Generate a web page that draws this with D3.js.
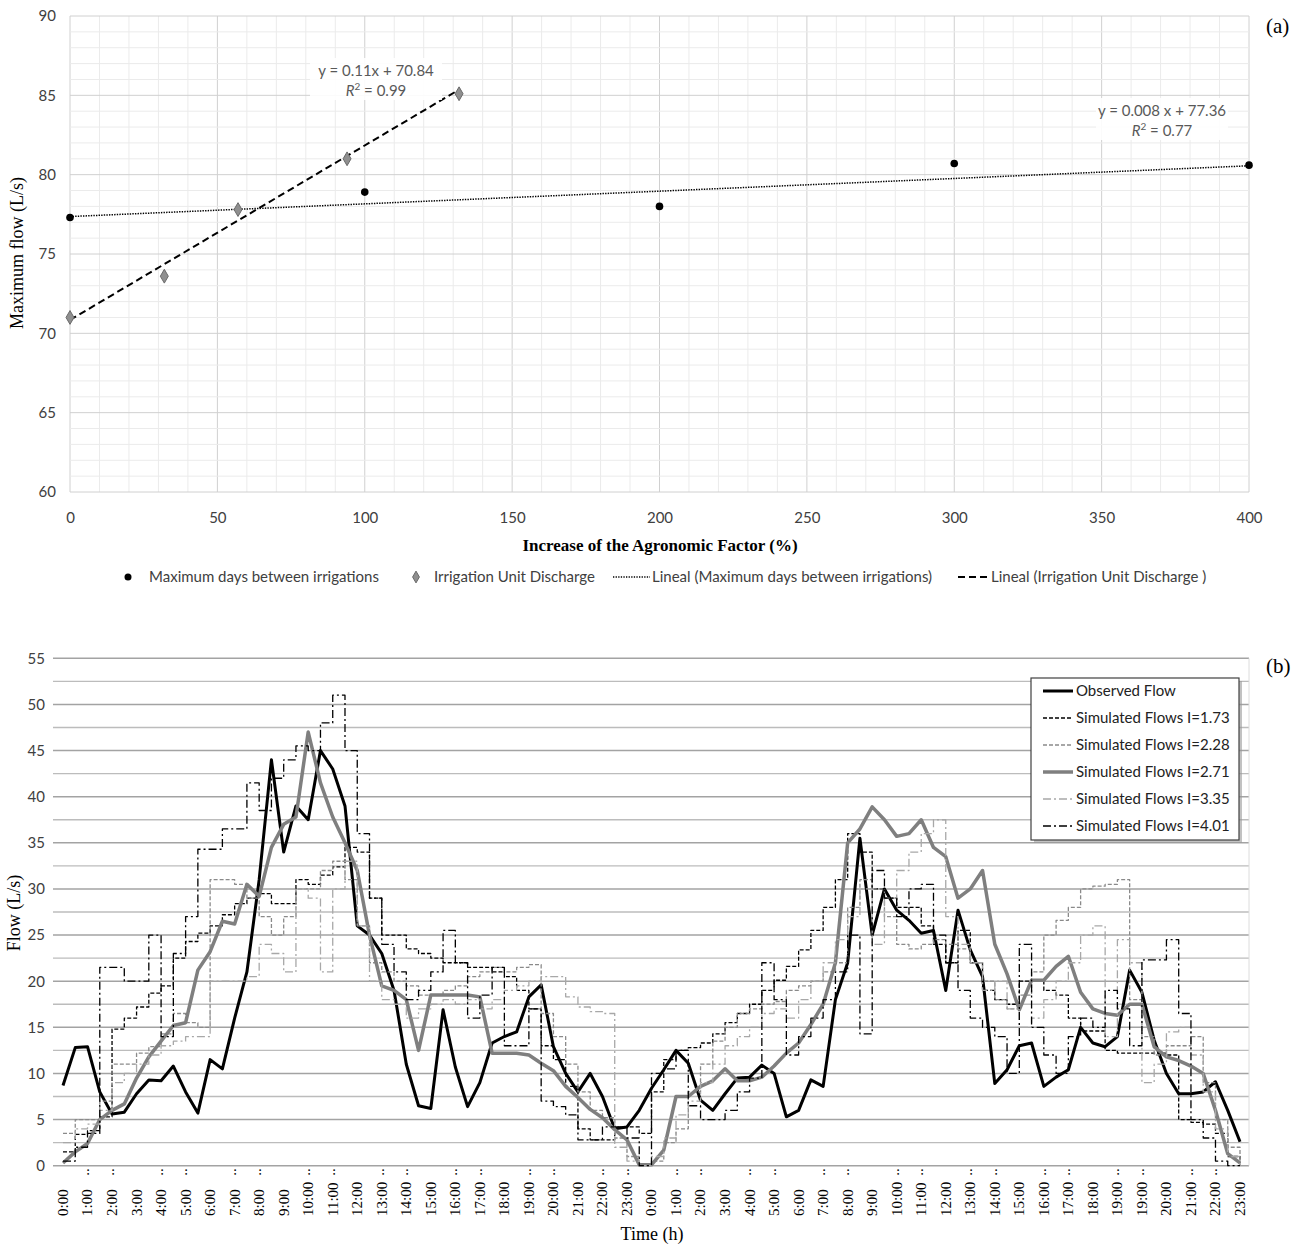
<!DOCTYPE html>
<html>
<head>
<meta charset="utf-8">
<script src="https://cdn.jsdelivr.net/npm/d3@7"></script>
<style>
body { margin: 0; background: #fff; }
</style>
</head>
<body>
<script>
// ---- panel (a) data
const daysX = [0, 100, 200, 300, 400];
const daysY = [77.3, 78.9, 78.0, 80.7, 80.6];
const dischargeX = [0, 32, 57, 94, 132];
const dischargeY = [71.0, 73.6, 77.8, 81.0, 85.1];
const trendSlope = [0.008, 0.11];       // days, discharge
const trendIntercept = [77.36, 70.84];
const trendXEnd = [400, 132];
const trendR2 = ['0.77', '0.99'];
const trendEq = ['y = 0.008 x + 77.36', 'y = 0.11x + 70.84'];
const legendA = ['Maximum days between irrigations', 'Irrigation Unit Discharge',
                 'Lineal (Maximum days between irrigations)', 'Lineal (Irrigation Unit Discharge )'];

// ---- panel (b) data, one value every half label step
const timeLabels = ['0:00','1:00','2:00','3:00','4:00','5:00','6:00','7:00','8:00','9:00','10:00','11:00',
    '12:00','13:00','14:00','15:00','16:00','17:00','18:00','19:00','20:00','21:00','22:00','23:00',
    '0:00','1:00','2:00','3:00','4:00','5:00','6:00','7:00','8:00','9:00','10:00','11:00',
    '12:00','13:00','14:00','15:00','16:00','17:00','18:00','19:00','19:00','20:00','21:00','22:00','23:00'];
const labelCut = [0,1,1,0,1,1,0,1,1,0,1,1,0,1,1,0,1,1,0,1,1,0,1,1,
                  0,1,1,0,1,1,0,1,1,0,1,1,0,1,1,0,1,1,0,1,1,0,1,1,0];
const times = d3.range(0, 48.25, 0.5);

const observed = [
    8.7, 12.8, 12.9, 8, 5.6, 5.8, 7.8, 9.3,
    9.2, 10.8, 8, 5.7, 11.5, 10.5, 16, 21,
    31, 44, 34, 39, 37.5, 45, 43, 39,
    26, 25, 23, 19, 11, 6.5, 6.2, 16.9,
    10.7, 6.4, 9, 13.3, 14, 14.5, 18.3, 19.6,
    12.9, 10, 8, 10, 7.5, 4, 4.2, 6,
    8.4, 10.4, 12.5, 11.1, 7.1, 6, 7.8, 9.5,
    9.6, 10.9, 10, 5.3, 6, 9.3, 8.6, 18,
    22, 35.5, 25, 30, 27.7, 26.6, 25.2, 25.5,
    19, 27.7, 23.4, 20.5, 8.9, 10.4, 13, 13.3,
    8.6, 9.6, 10.4, 15, 13.3, 12.9, 14, 21.2,
    18.8, 13.6, 10, 7.8, 7.8, 8, 9.1, 6,
    2.6];
const sim173 = [
    1.5, 3.4, 3.8, 5.3, 14.8, 16, 17.2, 18.7,
    19.5, 22.5, 24.3, 25.2, 26, 27.2, 28.4, 29,
    29.5, 28.4, 28.4, 31, 30.5, 31.5, 32.4, 34.5,
    34, 29, 25, 25, 23.5, 23, 22.5, 22,
    22, 21.5, 21.5, 21, 20.5, 19, 17, 13,
    11.5, 8.6, 4, 2.8, 2.8, 4.2, 4.2, 3.5,
    8, 11.5, 12.5, 12.8, 13.3, 14.3, 15.5, 16.5,
    17.5, 19, 20.1, 21.6, 23.4, 25.5, 28, 31,
    36, 34, 30, 29, 28, 28, 26, 24,
    22, 25.5, 22, 19, 18, 17.5, 20, 20,
    19, 18.5, 16, 14.6, 14.6, 12.5, 12.2, 12.2,
    12.2, 12.2, 12, 5, 4.7, 4.5, 3.5, 1,
    0.3];
const sim228 = [
    3.5, 5, 5, 7, 11, 11, 12.2, 12.9,
    14.3, 16.5, 15.5, 15, 31, 31, 30.5, 29,
    27, 25, 27, 30, 30, 32, 33, 31,
    26, 22, 21, 20, 19.5, 18.5, 18.5, 19,
    19.5, 20.5, 21, 21.5, 21, 21.5, 21.8, 16.5,
    14, 11, 8, 6, 5.2, 3, 1, 0,
    0.5, 2.5, 4, 8, 11, 13.5, 15, 16.5,
    17, 17.5, 17.8, 19, 19.5, 20, 21, 22,
    28, 31, 30, 27, 24, 23.5, 24, 24.5,
    24, 23.5, 22, 20, 18, 17, 18.5, 21,
    25, 26.6, 28, 30, 30.3, 30.5, 31, 18,
    14, 12, 13, 13, 14, 9, 5, 2,
    0];
const sim271 = [
    0.3, 1.5, 2.4, 5, 6, 6.7, 9.5, 11.8,
    13.5, 15.2, 15.5, 21.2, 23.2, 26.5, 26.2, 30.5,
    29.2, 34.5, 37, 37.8, 47, 41.5, 37.8, 35,
    32, 25, 19.5, 19, 18, 12.5, 18.5, 18.5,
    18.5, 18.5, 18.3, 12.2, 12.2, 12.2, 12, 11.1,
    10.3, 8.6, 7.4, 6.1, 5.2, 3.9, 2.8, 0.1,
    0.1, 1.7, 7.5, 7.5, 8.6, 9.2, 10.5, 9.2,
    9.2, 9.6, 10.8, 12.2, 13.3, 15.3, 17.5, 22,
    35, 36.5, 38.9, 37.5, 35.7, 36, 37.5, 34.5,
    33.5, 29, 30, 32, 24, 20.8, 16.9, 20.1,
    20.1, 21.6, 22.7, 18.8, 17, 16.5, 16.3, 17.5,
    17.5, 12.9, 11.8, 11.4, 10.8, 10, 6, 1.3,
    0.3];
const sim335 = [
    2.5, 4, 4.5, 6, 9, 10, 11, 12,
    13, 13.5, 14, 14, 20, 20, 20, 20.5,
    24, 23, 21, 30, 29, 21, 30, 33,
    26, 20, 18, 17.5, 16, 17, 17.5, 18,
    17.5, 18, 17, 18, 19, 19.5, 20, 20.5,
    20.5, 18.3, 17.2, 16.7, 16.5, 2, 0.5, 0,
    1, 3, 5.5, 7, 9, 11, 13, 14,
    15, 16.5, 17, 16, 18, 20, 22, 24.5,
    27, 30, 24, 29, 32, 34, 36, 37.5,
    27, 24, 22, 19, 20, 17, 15, 16,
    18, 20, 22, 25, 26, 14, 24.5, 22,
    9, 11, 14.5, 15, 12, 8, 4, 1,
    0];
const sim401 = [
    0.5, 2, 3.5, 21.5, 21.5, 20, 20, 25,
    14, 23, 27, 34.3, 34.3, 36.5, 36.5, 41.5,
    38.5, 42, 44, 45.5, 45, 48, 51, 45,
    36, 29, 24, 21, 18, 19, 21, 25.5,
    22, 16, 18.5, 21.5, 13, 13, 17, 7,
    6.4, 5.5, 2.8, 2.8, 4.2, 4.2, 3, 0,
    10, 10.5, 12.5, 6.5, 5, 5, 6, 8,
    9.5, 22, 18, 12, 14, 16, 18, 21,
    25, 14.3, 32, 29, 27, 30, 30.5, 25,
    22, 19, 16, 15, 14, 10, 24, 15,
    12, 10, 14, 16, 15, 19, 17, 13,
    22.3, 22.3, 24.5, 16.5, 5, 3, 0.5, 0,
    0];
const seriesNames = ['Observed Flow', 'Simulated Flows I=1.73', 'Simulated Flows I=2.28',
                     'Simulated Flows I=2.71', 'Simulated Flows I=3.35', 'Simulated Flows I=4.01'];
const seriesValues = [observed, sim173, sim228, sim271, sim335, sim401];

// line looks, same order as the series
const seriesColor = ['#000', '#000', '#8a8a8a', '#7f7f7f', '#a8a8a8', '#000'];
const seriesWidth = [3, 1.3, 1.3, 3.5, 1.3, 1.3];
const seriesDash = [null, '4,2', '4,2', null, '8,3,2,3', '8,3,2,3'];

const serif = '"Liberation Serif", "Times New Roman", serif';
const sans = 'Lato, "Open Sans", sans-serif';

let svg = d3.select('body').append('svg')
    .attr('width', 1303)
    .attr('height', 1245)
    .style('font-family', sans);

svg.append('rect').attr('width', 1303).attr('height', 1245).attr('fill', '#fff');

// ================= panel (a)
const xA = d3.scaleLinear().domain([0, 400]).range([70, 1249]);
const yA = d3.scaleLinear().domain([60, 90]).range([492, 16]);

let ga = svg.append('g');

// minor grid first, major on top
let vx = d3.range(0, 401, 10).sort((a, b) => (a % 50 == 0) - (b % 50 == 0));
ga.selectAll('.vgrid').data(vx).enter().append('line')
    .attr('x1', d => xA(d)).attr('x2', d => xA(d))
    .attr('y1', yA(60)).attr('y2', yA(90))
    .attr('stroke', d => d % 50 == 0 ? '#d0d0d0' : '#ebebeb');
let hy = d3.range(60, 91, 1).sort((a, b) => (a % 5 == 0) - (b % 5 == 0));
ga.selectAll('.hgrid').data(hy).enter().append('line')
    .attr('x1', xA(0)).attr('x2', xA(400))
    .attr('y1', d => yA(d)).attr('y2', d => yA(d))
    .attr('stroke', d => d % 5 == 0 ? '#d0d0d0' : '#ebebeb');

ga.append('g')
    .attr('transform', `translate(${xA(0)},0)`)
    .call(d3.axisLeft(yA).tickValues(d3.range(60, 91, 5)).tickSize(0).tickPadding(14))
    .call(g => g.select('.domain').remove())
    .selectAll('text').style('font-size', '15px').style('font-family', sans).attr('fill', '#404040');

ga.append('g')
    .attr('transform', `translate(0,${yA(60)})`)
    .call(d3.axisBottom(xA).tickValues(d3.range(0, 401, 50)).tickSize(0).tickPadding(20))
    .call(g => g.select('.domain').remove())
    .selectAll('text').style('font-size', '15px').style('font-family', sans).attr('fill', '#404040');

// trend lines
const trendDash = ['1.4,1.2', '7,4'];
const trendWidth = [1.5, 2];
trendSlope.forEach(function(s, i) {
    ga.append('line')
        .attr('x1', xA(0)).attr('y1', yA(trendIntercept[i]))
        .attr('x2', xA(trendXEnd[i])).attr('y2', yA(trendIntercept[i] + s * trendXEnd[i]))
        .attr('stroke', '#000')
        .attr('stroke-width', trendWidth[i])
        .attr('stroke-dasharray', trendDash[i]);
});

ga.selectAll('.days').data(daysX).enter().append('circle')
    .attr('cx', d => xA(d))
    .attr('cy', (d, i) => yA(daysY[i]))
    .attr('r', 3.8)
    .attr('fill', '#000');

ga.selectAll('.disch').data(dischargeX).enter().append('path')
    .attr('d', d3.symbol().type(d3.symbolDiamond).size(55))
    .attr('transform', (d, i) => `translate(${xA(d)},${yA(dischargeY[i])})`)
    .attr('fill', '#8f8f8f')
    .attr('stroke', '#6a6a6a');

// equation boxes
const eqPos = [[1162, 111], [376, 71]];
trendEq.forEach(function(t, i) {
    let cx = eqPos[i][0], cy = eqPos[i][1];
    ga.append('rect')
        .attr('x', cx - 66).attr('y', cy - 13)
        .attr('width', 132).attr('height', 42)
        .attr('fill', '#fff').attr('opacity', 0.9);
    ga.append('text')
        .attr('x', cx).attr('y', cy + 5)
        .attr('text-anchor', 'middle')
        .style('font-size', '15px').attr('fill', '#595959')
        .text(t);
    let r = ga.append('text')
        .attr('x', cx).attr('y', cy + 25)
        .attr('text-anchor', 'middle')
        .style('font-size', '15px').attr('fill', '#595959');
    r.append('tspan').style('font-style', 'italic').text('R');
    r.append('tspan').attr('dy', -6).style('font-size', '10px').text('2');
    r.append('tspan').attr('dy', 6).text(' = ' + trendR2[i]);
});

svg.append('text')
    .attr('transform', 'translate(23,253) rotate(-90)')
    .attr('text-anchor', 'middle')
    .style('font-family', serif).style('font-size', '18px')
    .text('Maximum flow (L/s)');

svg.append('text')
    .attr('x', 660).attr('y', 551)
    .attr('text-anchor', 'middle')
    .style('font-family', serif).style('font-size', '17px').style('font-weight', 'bold')
    .text('Increase of the Agronomic Factor (%)');

svg.append('text')
    .attr('x', 1266).attr('y', 33)
    .style('font-family', serif).style('font-size', '21px')
    .text('(a)');

// legend (a)
let la = svg.append('g').style('font-size', '15px').attr('fill', '#404040');
la.append('circle').attr('cx', 128).attr('cy', 577).attr('r', 3.5).attr('fill', '#000');
la.append('text').attr('x', 149).attr('y', 582).text(legendA[0]);
la.append('path')
    .attr('d', d3.symbol().type(d3.symbolDiamond).size(40))
    .attr('transform', 'translate(416,577)')
    .attr('fill', '#8f8f8f').attr('stroke', '#6a6a6a');
la.append('text').attr('x', 434).attr('y', 582).text(legendA[1]);
la.append('line').attr('x1', 613).attr('x2', 650).attr('y1', 577).attr('y2', 577)
    .attr('stroke', '#000').attr('stroke-width', 1.3).attr('stroke-dasharray', '1.3,1.3');
la.append('text').attr('x', 652).attr('y', 582).text(legendA[2]);
la.append('line').attr('x1', 958).attr('x2', 990).attr('y1', 577).attr('y2', 577)
    .attr('stroke', '#000').attr('stroke-width', 2).attr('stroke-dasharray', '7,4');
la.append('text').attr('x', 991).attr('y', 582).text(legendA[3]);

// ================= panel (b)
const xB = d3.scaleLinear().domain([0, 48]).range([63, 1240]);
const yB = d3.scaleLinear().domain([0, 55]).range([1165.7, 658.3]);

let gb = svg.append('g');

let hb = d3.range(0, 55.1, 2.5).sort((a, b) => (a % 5 == 0) - (b % 5 == 0));
gb.selectAll('.bgrid').data(hb).enter().append('line')
    .attr('x1', 53).attr('x2', 1249)
    .attr('y1', d => yB(d)).attr('y2', d => yB(d))
    .attr('stroke', d => d % 5 == 0 ? '#a3a3a3' : '#bcbcbc')
    .attr('stroke-width', 1.4);
gb.append('line')
    .attr('x1', 1249).attr('x2', 1249).attr('y1', yB(55)).attr('y2', yB(0))
    .attr('stroke', '#dcdcdc');

gb.append('g')
    .attr('transform', 'translate(57,0)')
    .call(d3.axisLeft(yB).tickValues(d3.range(0, 56, 5)).tickSize(0).tickPadding(12))
    .call(g => g.select('.domain').remove())
    .selectAll('text').style('font-size', '15px').style('font-family', sans).attr('fill', '#404040');

// rotated time labels, cut labels get the two dots
let xl = gb.append('g').style('font-family', serif).style('font-size', '15px');
xl.selectAll('.tl').data(timeLabels).enter().append('text')
    .attr('transform', (d, i) => `translate(${xB(i)},1216) rotate(-90)`)
    .attr('dy', '0.33em')
    .text(d => d);
xl.selectAll('.cut').data(labelCut.map((c, i) => [c, i]).filter(d => d[0] == 1)).enter().append('text')
    .attr('transform', d => `translate(${xB(d[1])},1172) rotate(-90)`)
    .attr('text-anchor', 'middle')
    .attr('dy', '0.12em')
    .text('..');

// series, drawn in legend order
seriesValues.forEach(function(vals, s) {
    let line = d3.line()
        .x((d, i) => xB(times[i]))
        .y(d => yB(d))
        .curve(seriesWidth[s] > 2 ? d3.curveLinear : d3.curveStepAfter);
    gb.append('path')
        .datum(vals)
        .attr('d', line)
        .attr('fill', 'none')
        .attr('stroke', seriesColor[s])
        .attr('stroke-width', seriesWidth[s])
        .attr('stroke-dasharray', seriesDash[s])
        .attr('stroke-linejoin', 'round');
});

// legend (b)
let lb = svg.append('g');
lb.append('rect').attr('x', 1034).attr('y', 681).attr('width', 208).attr('height', 162)
    .attr('fill', '#9a9a9a').attr('opacity', 0.6);
lb.append('rect').attr('x', 1031).attr('y', 678).attr('width', 208).attr('height', 162)
    .attr('fill', '#fff').attr('stroke', '#404040').attr('stroke-width', 1.2);
seriesNames.forEach(function(n, s) {
    let y = 691 + s * 27;
    lb.append('line')
        .attr('x1', 1043).attr('x2', 1073).attr('y1', y).attr('y2', y)
        .attr('stroke', seriesColor[s])
        .attr('stroke-width', seriesWidth[s])
        .attr('stroke-dasharray', seriesDash[s]);
    lb.append('text')
        .attr('x', 1076).attr('y', y + 5)
        .style('font-size', '15px').attr('fill', '#222')
        .text(n);
});

svg.append('text')
    .attr('transform', 'translate(20,913) rotate(-90)')
    .attr('text-anchor', 'middle')
    .style('font-family', serif).style('font-size', '18px')
    .text('Flow (L/s)');

svg.append('text')
    .attr('x', 652).attr('y', 1240)
    .attr('text-anchor', 'middle')
    .style('font-family', serif).style('font-size', '18px')
    .text('Time (h)');

svg.append('text')
    .attr('x', 1266).attr('y', 673)
    .style('font-family', serif).style('font-size', '21px')
    .text('(b)');
</script>
</body>
</html>
